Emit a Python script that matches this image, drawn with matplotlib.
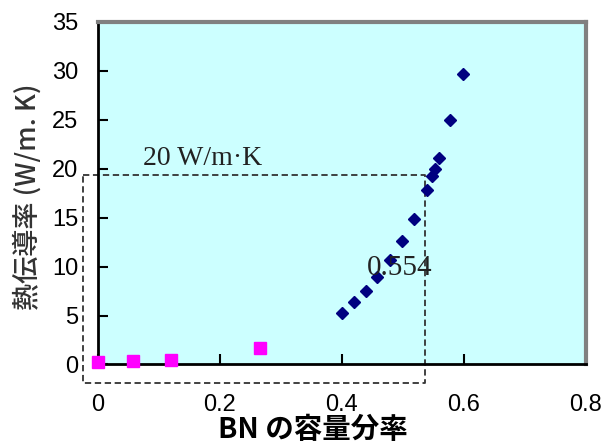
import matplotlib.pyplot as plt

# BN volume fraction vs thermal conductivity
bn_x = [0.40, 0.42, 0.439, 0.458, 0.479, 0.499, 0.519, 0.539, 0.548, 0.552, 0.559, 0.578, 0.599]
bn_y = [5.3, 6.4, 7.5, 8.9, 10.7, 12.6, 14.9, 17.8, 19.3, 20.0, 21.1, 25.0, 29.7]

ref_x = [0.0, 0.057, 0.12, 0.266]
ref_y = [0.2, 0.35, 0.45, 1.7]

# dashed guide box (20 W/m·K level, 0.554 fraction)
box_x = [-0.025, 0.536, 0.536, -0.025, -0.025]
box_y = [19.4, 19.4, -1.85, -1.85, 19.4]

xticks = [0, 0.2, 0.4, 0.6, 0.8]
xtick_labels = ['0', '0.2', '0.4', '0.6', '0.8']
yticks = [0, 5, 10, 15, 20, 25, 30, 35]

fig = plt.figure(figsize=(6.06, 4.45), dpi=100)
ax = fig.add_axes([0.1617, 0.181, 0.805, 0.7696])
ax.set_facecolor('#ccffff')

ax.plot(box_x, box_y, ls=(0, (3.5, 2)), color='#333333', lw=1.3,
        clip_on=False, zorder=2)
ax.plot(bn_x, bn_y, 'D', color='#000080', ms=6, ls='none', zorder=4)
ax.plot(ref_x, ref_y, 's', color='#ff00ff', ms=8.5, ls='none',
        clip_on=False, zorder=5)

ax.text(0.074, 20.4, '20 W/m\u00b7K', fontsize=20, color='#222222',
        family='Liberation Serif', va='baseline', ha='left')
ax.text(0.441, 9.9, '0.554', fontsize=21, color='#222222',
        family='Liberation Serif', va='center', ha='left', zorder=6)

ax.set_xlim(0, 0.8)
ax.set_ylim(0, 35)
ax.set_xticks(xticks)
ax.set_xticklabels(xtick_labels)
ax.set_yticks(yticks)

ax.tick_params(direction='in', length=7, width=1.5, top=False, right=False,
               labelsize=17)
ax.tick_params(axis='x', pad=21)
ax.tick_params(axis='y', pad=14)
for lab in ax.get_xticklabels() + ax.get_yticklabels():
    lab.set_family('Liberation Sans')

for s in ['left', 'bottom']:
    ax.spines[s].set_color('black')
    ax.spines[s].set_linewidth(2)
for s in ['top', 'right']:
    ax.spines[s].set_color('#808080')
    ax.spines[s].set_linewidth(3)

fig.text(313 / 606, 1 - 430 / 445, 'BN の容量分率', fontsize=20.5,
         fontweight='bold', family=['Noto Sans CJK JP', 'DejaVu Sans'],
         ha='center', va='center')
fig.text(27 / 606, 1 - 197 / 445, '熱伝導率 (W/m. K)', fontsize=19.5,
         color='#333333', rotation=90, fontweight='medium',
         family=['Noto Sans CJK JP', 'DejaVu Sans'],
         ha='center', va='center')

fig.savefig('out.png', dpi=100)
